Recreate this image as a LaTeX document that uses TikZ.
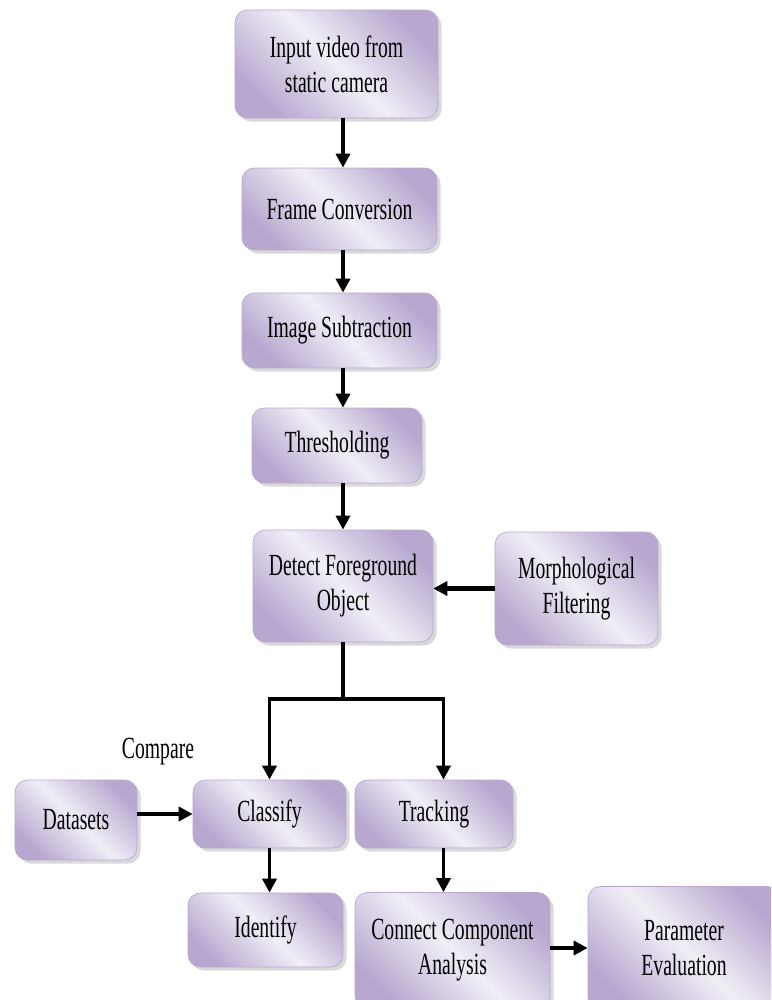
\documentclass[tikz,border=0pt]{standalone}
\usepackage{fontspec}
\setmainfont{Liberation Serif}[FakeStretch=0.64]
\usetikzlibrary{arrows.meta}
\usetikzlibrary{shadows}
\definecolor{boxdark}{RGB}{184,168,208}
\definecolor{boxlight}{RGB}{241,238,246}
\begin{document}
\begin{tikzpicture}[x=0.02cm,y=-0.02cm,->,>={Triangle[length=8pt,width=8pt]},line width=2pt,
  stage/.style={rectangle,rounded corners=7pt,draw=boxdark,line width=0.4pt,
    top color=boxdark,bottom color=boxdark,middle color=boxlight,shading angle=-45,
    drop shadow={shadow xshift=2pt,shadow yshift=-2pt,opacity=0.3},
    align=center,inner sep=0pt,font=\fontsize{17.5pt}{20pt}\selectfont},
  thickarr/.style={line width=2.8pt}]

  \useasboundingbox (0,0) rectangle (771,1000);
  \clip (0,0) rectangle (771,1000);

  % main column
  \node[stage,minimum width=4.06cm,minimum height=2.16cm] (Input) at (336.5,64) {Input video from\\static camera};
  \node[stage,minimum width=3.9cm,minimum height=1.64cm] (Frame) at (339.5,209) {Frame Conversion};
  \node[stage,minimum width=3.9cm,minimum height=1.5cm] (Image) at (339.5,330.5) {Image Subtraction};
  \node[stage,minimum width=3.4cm,minimum height=1.5cm] (Thresh) at (337,445.5) {Thresholding};
  \node[stage,minimum width=3.6cm,minimum height=2.24cm] (Detect) at (343,586) {Detect Foreground\\Object};
  \node[stage,minimum width=3.26cm,minimum height=2.26cm] (Morph) at (576.5,588.5) {Morphological\\Filtering};

  % lower part
  \node[stage,minimum width=2.44cm,minimum height=1.6cm] (Datasets) at (76,820) {Datasets};
  \node[stage,minimum width=3.06cm,minimum height=1.36cm] (Classify) at (269.5,814) {Classify};
  \node[stage,minimum width=3.16cm,minimum height=1.36cm] (Tracking) at (434,814) {Tracking};
  \node[stage,minimum width=3.1cm,minimum height=1.48cm] (Identify) at (265.5,930) {Identify};
  \node[stage,minimum width=3.9cm,minimum height=2.3cm] (Connect) at (452.5,950) {Connect Component\\Analysis};
  \node[stage,minimum width=3.84cm,minimum height=2.46cm] (Param) at (684,948) {Parameter\\Evaluation};
  \node[font=\fontsize{17.5pt}{20pt}\selectfont] (compare) at (158,752) {Compare};
  \coordinate (split) at (343,699);

  \draw (Input.south -| Detect.north) -- (Frame.north -| Detect.north);
  \draw (Frame.south -| Detect.north) -- (Image.north -| Detect.north);
  \draw (Image.south -| Detect.north) -- (Thresh.north -| Detect.north);
  \draw (Thresh.south -| Detect.north) -- (Detect.north);
  \draw[thickarr] (Morph.west) -- (Detect.east |- Morph.west);
  \draw[-] (Detect.south) -- (split);
  \draw (split) -| (Classify.north);
  \draw (split) -| ([xshift=0.19cm]Tracking.north);
  \draw[thickarr] (Datasets.east |- Classify.west) -- (Classify.west);
  \draw (Classify.south) -- (Identify.north -| Classify.south);
  \draw ([xshift=0.19cm]Tracking.south) -- ([xshift=0.19cm]Tracking.south |- Connect.north);
  \draw[thickarr] (Connect.east |- Param.west) -- (Param.west);

\end{tikzpicture}
\end{document}
